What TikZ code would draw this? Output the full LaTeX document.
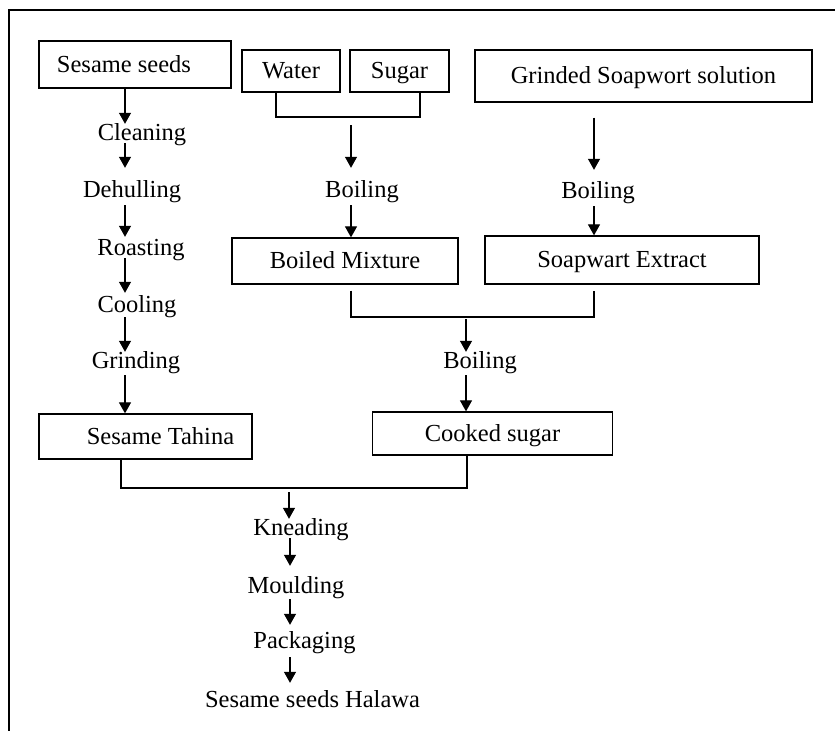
\documentclass[tikz,border=0pt]{standalone}
\usepackage{fontspec}
\setmainfont{Liberation Serif}
\usetikzlibrary{arrows.meta,calc}
\begin{document}
\begin{tikzpicture}[x=1pt,y=-1pt,
  every node/.style={font=\fontsize{24.5pt}{29pt}\selectfont},
  box/.style={draw, line width=1.3pt, inner sep=0pt, text height=19pt, text depth=4pt},
  stepnode/.style={inner sep=0pt, anchor=base, text height=16pt, text depth=5pt},
  arr/.style={line width=1.2pt, -{Triangle[width=12pt,length=11pt]}},
  ln/.style={line width=1.2pt}]
\useasboundingbox (0,0) rectangle (835,731);
% frame
\draw[line width=1.3pt] (835,10) -- (9,10) -- (9,731);
% boxes
\node[box, minimum width=192pt, minimum height=47pt] (seeds) at (135,64.5) {Sesame seeds\hspace*{22pt}};
\node[box, minimum width=98pt, minimum height=42pt] (water) at (291,71) {Water};
\node[box, minimum width=99pt, minimum height=42pt] (sugar) at (399.5,71) {Sugar};
\node[box, minimum width=337pt, minimum height=52pt] (soap) at (643.5,76) {Grinded Soapwort solution};
\node[box, minimum width=226pt, minimum height=46pt] (boiled) at (345,261) {Boiled Mixture};
\node[box, minimum width=274pt, minimum height=48pt] (soapex) at (622,260) {Soapwart Extract};
\node[box, minimum width=240pt, minimum height=43pt] (cooked) at (492.5,433.5) {Cooked sugar};
\node[box, minimum width=213pt, minimum height=45pt] (tahina) at (145.5,436.5) {\hspace*{30pt}Sesame Tahina};
% steps
\node[stepnode] (clean) at (142,140) {Cleaning};
\node[stepnode] (dehull) at (132,197) {Dehulling};
\node[stepnode] (roast) at (141,255) {Roasting};
\node[stepnode] (cool) at (137,312) {Cooling};
\node[stepnode] (grind) at (136,368) {Grinding};
\node[stepnode] (boila) at (362,197) {Boiling};
\node[stepnode] (boilb) at (598,198) {Boiling};
\node[stepnode] (boilc) at (480,368) {Boiling};
\node[stepnode] (knead) at (301,535) {Kneading};
\node[stepnode] (mould) at (296,593) {Moulding};
\node[stepnode] (pack) at (304.5,648) {Packaging};
\node[stepnode] (halawa) at (312.5,707) {Sesame seeds Halawa};
% helper coordinates
\coordinate (lc) at (125,0);
\coordinate (bc) at (290,0);
\coordinate (sc) at (594,0);
\coordinate (j1) at (351,117);
\coordinate (j2) at (466,317);
\coordinate (j3) at (289,488);
% left column
\draw[arr] (seeds.south -| lc) -- (clean.north -| lc);
\draw[arr, shorten <=-2pt, shorten >=13pt] (clean.south -| lc) -- (dehull.north -| lc);
\draw[arr, shorten <=3pt, shorten >=2pt] (dehull.south -| lc) -- (roast.north -| lc);
\draw[arr, shorten <=-2pt, shorten >=3pt] (roast.south -| lc) -- (cool.north -| lc);
\draw[arr] (cool.south -| lc) -- (grind.north -| lc);
\draw[arr, shorten <=2pt] (grind.south -| lc) -- (tahina.north -| lc);
% water + sugar
\draw[ln] ($(water.south)+(-15,0)$) |- (j1) -| ($(sugar.south)+(20.5,0)$);
\draw[arr, shorten <=8pt, shorten >=13pt] (j1) -- (boila.north -| j1);
\draw[arr, shorten <=3pt] (boila.south -| j1) -- (boiled.north -| j1);
% soapwort
\draw[arr, shorten <=15pt, shorten >=12pt] (soap.south -| sc) -- (boilb.north -| sc);
\draw[arr, shorten <=3pt] (boilb.south -| sc) -- (soapex.north -| sc);
% merge 2
\draw[ln] ($(boiled.south -| j1)+(0,6)$) |- (j2) -| ($(soapex.south -| sc)+(0,6)$);
\draw[arr, shorten <=2pt] (j2) -- (boilc.north -| j2);
\draw[arr, shorten <=2pt] (boilc.south -| j2) -- (cooked.north -| j2);
% merge 3
\draw[ln] ($(tahina.south)+(-24.5,0)$) |- (j3) -| ($(cooked.south)+(-25.5,0)$);
\draw[arr, shorten <=4pt] (j3) -- (knead.north -| j3);
\draw[arr, shorten <=-2pt, shorten >=11pt] (knead.south -| bc) -- (mould.north -| bc);
\draw[arr, shorten <=1pt, shorten >=7pt] (mould.south -| bc) -- (pack.north -| bc);
\draw[arr, shorten <=4pt, shorten >=8pt] (pack.south -| bc) -- (halawa.north -| bc);
\end{tikzpicture}
\end{document}
